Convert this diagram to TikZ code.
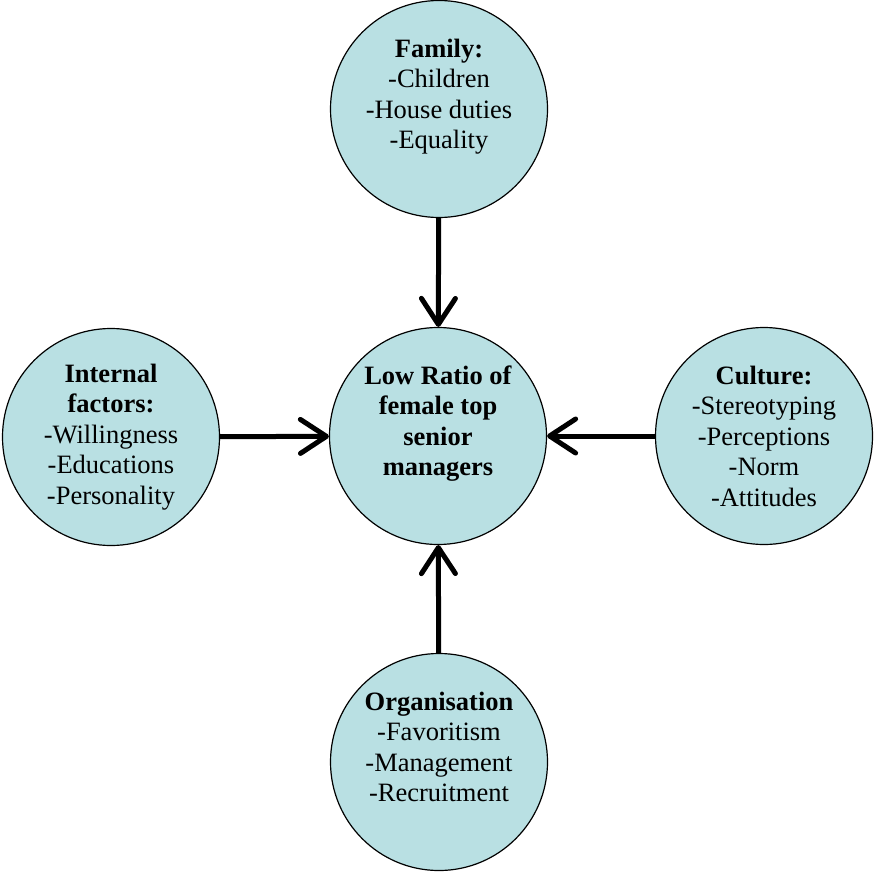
\documentclass[tikz,border=0pt]{standalone}
\usepackage{fontspec}
\setmainfont{Liberation Serif}
\usetikzlibrary{arrows.meta}
\definecolor{circfill}{RGB}{185,224,227}

\begin{document}
\begin{tikzpicture}[x=1pt, y=-1pt,
  every node/.style={font=\fontsize{26.5}{30.5}\selectfont},
  factor/.style={draw, line width=1.2pt, fill=circfill, circle, minimum size=217pt, inner sep=0pt, align=center},
  arr/.style={line width=5pt, -{Straight Barb[length=26pt, width=34pt, line cap=round, line join=round]}}]
\useasboundingbox (0,0) rectangle (874,872);
% Circles
\node[factor] (family) at (439,109) {\textbf{Family:}\\-Children\\-House duties\\-Equality\\ \mbox{}};
\node[factor] (ratio) at (438,436) {\textbf{Low Ratio of}\\\textbf{female top}\\\textbf{senior}\\\textbf{managers}\\ \mbox{}};
\node[factor] (internal) at (111,437) {\textbf{Internal}\\\textbf{factors:}\\-Willingness\\-Educations\\-Personality};
\node[factor] (culture) at (764,436) {\textbf{Culture:}\\-Stereotyping\\-Perceptions\\-Norm\\-Attitudes};
\node[factor] (org) at (439,762) {\textbf{Organisation}\\-Favoritism\\-Management\\-Recruitment\\ \mbox{}};

% Arrows
\draw[arr] (family) -- (ratio);
\draw[arr] (internal) -- (ratio);
\draw[arr] (culture) -- (ratio);
\draw[arr] (org) -- (ratio);
\end{tikzpicture}
\end{document}
